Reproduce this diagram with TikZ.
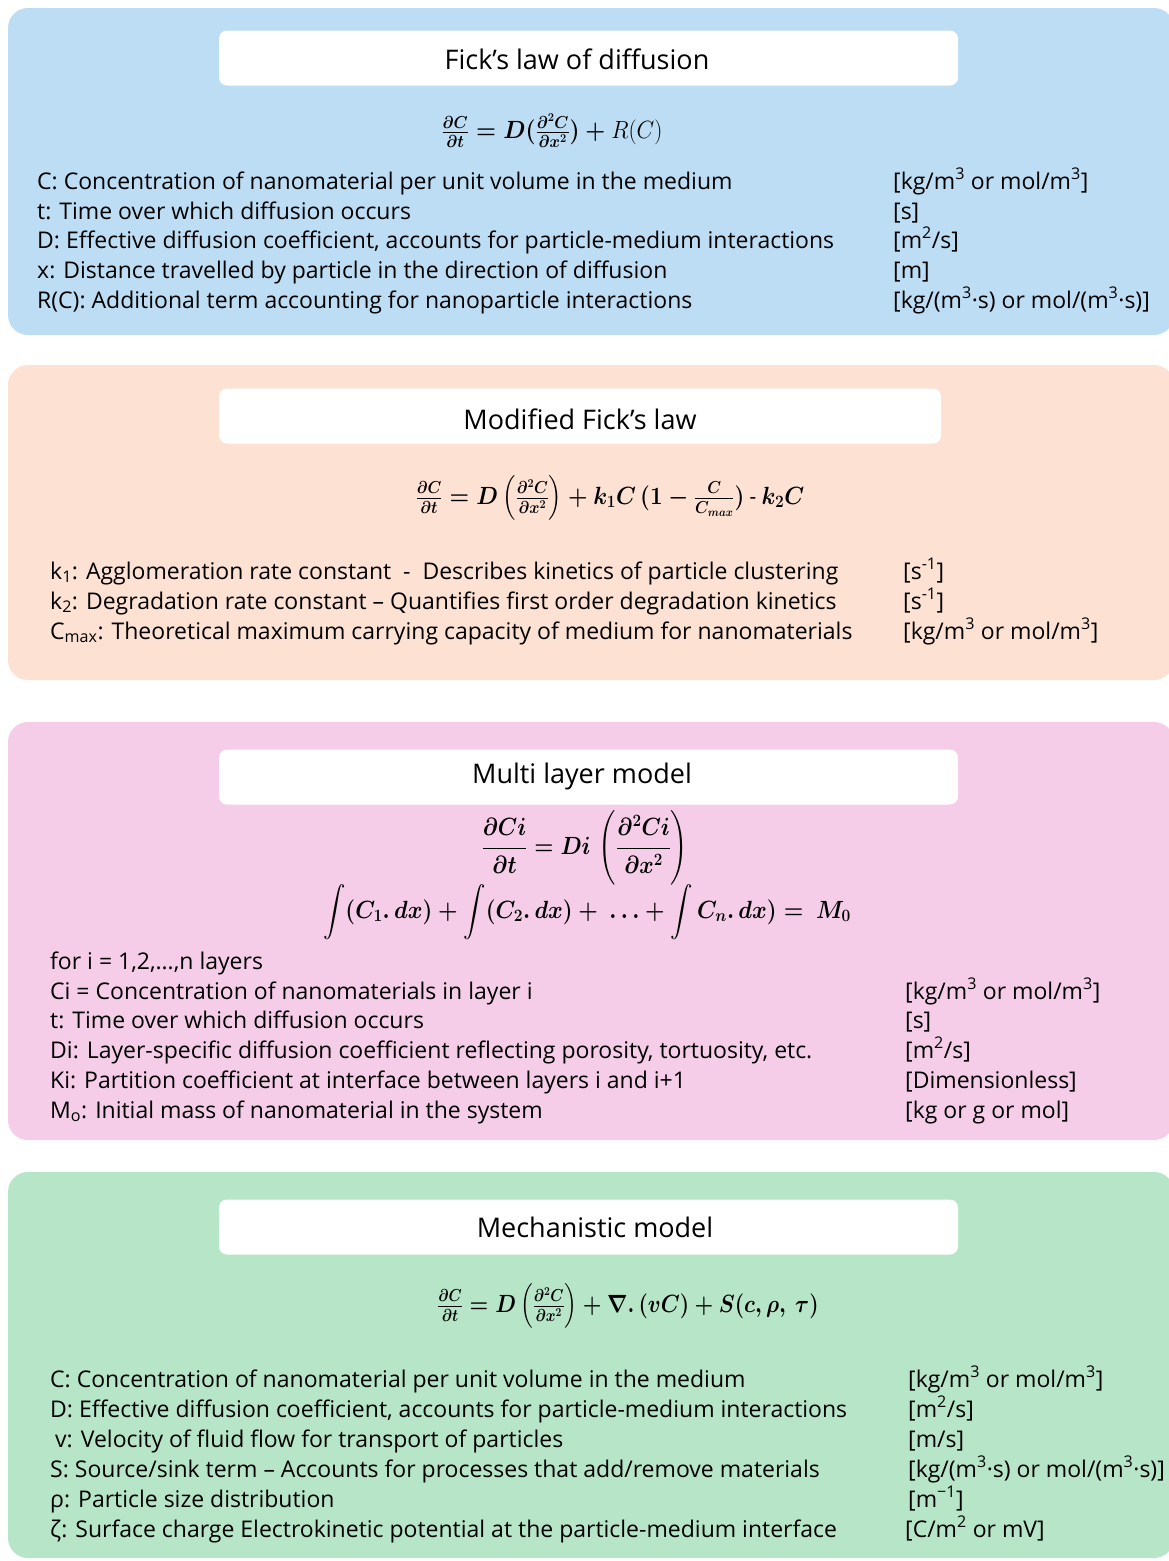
\documentclass[tikz,border=0pt]{standalone}
\usepackage{fontspec}
\setmainfont{Open Sans}
\usepackage{amsmath}
\usepackage{graphicx}
\definecolor{fickblue}{RGB}{188,221,243}
\definecolor{modpeach}{RGB}{253,225,211}
\definecolor{layerpink}{RGB}{245,205,232}
\definecolor{mechgreen}{RGB}{182,229,199}
\tikzset{
  panel/.style={rounded corners=20pt},
  titlebox/.style={fill=white, rounded corners=8pt, minimum height=55pt, inner sep=0pt},
  titletext/.style={inner sep=0pt, font=\fontsize{27}{31}\selectfont},
  defline/.style={anchor=west, inner sep=0pt, text height=17pt, text depth=5pt, font=\fontsize{23}{27}\selectfont},
  eqn/.style={inner sep=0pt, font=\fontsize{#1}{#1}\selectfont\boldmath}
}
\begin{document}
\begin{tikzpicture}[x=1pt, y=-1pt]
        \useasboundingbox (0,0) rectangle (1169,1561);

        \fill[fickblue, panel] (8,8) rectangle (1174,335);
        \fill[modpeach, panel] (8,365) rectangle (1174,680);
        \fill[layerpink, panel] (8,722) rectangle (1174,1140);
        \fill[mechgreen, panel] (8,1172) rectangle (1174,1558);

        \node[titlebox, minimum width=739pt] (fick) at (588.5,58) {};
        \node[titlebox, minimum width=722pt] (mod) at (580,416) {};
        \node[titlebox, minimum width=739pt] (multi) at (588.5,777) {};
        \node[titlebox, minimum width=739pt] (mech) at (588.5,1227) {};
        \node[titletext] (ficktitle) at (577,59) {Fick’s law of diffusion};
        \node[titletext] (modtitle) at (580,419) {Modified Fick’s law};
        \node[titletext] (multititle) at (582,776) {Multi layer model};
        \node[titletext] (mechtitle) at (595,1227) {Mechanistic model};

        \node[eqn=24] (fickeq) at (552,131) {\scalebox{0.92}[1]{$\tfrac{\partial C}{\partial t} = D(\tfrac{\partial^2 C}{\partial x^2}) + \text{\unboldmath$R(C)$}$}};
        \node[eqn=23] (modeq) at (610,498) {\scalebox{0.9}[1]{$\tfrac{\partial C}{\partial t} = D\left(\tfrac{\partial^2 C}{\partial x^2}\right) + k_1C\,(1-\tfrac{C}{C_{max}})$ - $k_2C$}};
        \node[eqn=23] (multieq) at (585,848) {\scalebox{0.88}[1]{$\dfrac{\partial Ci}{\partial t} = Di\,\left(\dfrac{\partial^2 Ci}{\partial x^2}\right)$}};
        \node[eqn=24] (sumeq) at (587,912) {\scalebox{0.9}[1]{$\displaystyle\int (C_1.\,dx) + \int (C_2.\,dx) + \ \ldots + \int C_n.\,dx) =\ M_0$}};
        \node[eqn=23] (mecheq) at (628,1306) {\scalebox{0.86}[1]{$\tfrac{\partial C}{\partial t} = D\left(\tfrac{\partial^2 C}{\partial x^2}\right) + \nabla.\,(vC) + S(c,\rho,\ \tau)$}};

        \node[defline] (fickC) at (37,183) {C: Concentration of nanomaterial per unit volume in the medium};
        \node[defline] (fickt) at (37,213) {t: Time over which diffusion occurs};
        \node[defline] (fickD) at (37,242) {D: Effective diffusion coefficient, accounts for particle-medium interactions};
        \node[defline] (fickx) at (37,272) {x: Distance travelled by particle in the direction of diffusion};
        \node[defline] (fickR) at (37,302) {R(C): Additional term accounting for nanoparticle interactions};
        \node[defline] (fickCu) at (893,183) {[kg/m\textsuperscript{3} or mol/m\textsuperscript{3}]};
        \node[defline] (ficktu) at (893,213) {[s]};
        \node[defline] (fickDu) at (893,242) {[m\textsuperscript{2}/s]};
        \node[defline] (fickxu) at (893,272) {[m]};
        \node[defline] (fickRu) at (893,302) {[kg/(m\textsuperscript{3}·s) or mol/(m\textsuperscript{3}·s)]};

        \node[defline] (modk1) at (50,573) {k\textsubscript{1}: Agglomeration rate constant \ - \ Describes kinetics of particle clustering};
        \node[defline] (modk2) at (50,603) {k\textsubscript{2}: Degradation rate constant – Quantifies first order degradation kinetics};
        \node[defline] (modC) at (50,633) {C\textsubscript{max}: Theoretical maximum carrying capacity of medium for nanomaterials};
        \node[defline] (modk1u) at (903,573) {[s\textsuperscript{-1}]};
        \node[defline] (modk2u) at (903,603) {[s\textsuperscript{-1}]};
        \node[defline] (modCu) at (903,633) {[kg/m\textsuperscript{3} or mol/m\textsuperscript{3}]};

        \node[defline] (multii) at (50,963) {for i = 1,2,\dots,n layers};
        \node[defline] (multiC) at (50,993) {Ci = Concentration of nanomaterials in layer i};
        \node[defline] (multit) at (50,1022) {t: Time over which diffusion occurs};
        \node[defline] (multiD) at (50,1052) {Di: Layer-specific diffusion coefficient reflecting porosity, tortuosity, etc.};
        \node[defline] (multiK) at (50,1082) {Ki: Partition coefficient at interface between layers i and i+1};
        \node[defline] (multiM) at (50,1112) {M\textsubscript{o}: Initial mass of nanomaterial in the system};
        \node[defline] (multiCu) at (905,993) {[kg/m\textsuperscript{3} or mol/m\textsuperscript{3}]};
        \node[defline] (multitu) at (905,1022) {[s]};
        \node[defline] (multiDu) at (905,1052) {[m\textsuperscript{2}/s]};
        \node[defline] (multiKu) at (905,1082) {[Dimensionless]};
        \node[defline] (multiMu) at (905,1112) {[kg or g or mol]};

        \node[defline] (mechC) at (50,1381) {C: Concentration of nanomaterial per unit volume in the medium};
        \node[defline] (mechD) at (50,1411) {D: Effective diffusion coefficient, accounts for particle-medium interactions};
        \node[defline] (mechv) at (55,1441) {v: Velocity of fluid flow for transport of particles};
        \node[defline] (mechS) at (50,1471) {S: Source/sink term – Accounts for processes that add/remove materials};
        \node[defline] (mechrho) at (50,1501) {ρ: Particle size distribution};
        \node[defline] (mechz) at (50,1531) {ζ: Surface charge Electrokinetic potential at the particle-medium interface};
        \node[defline] (mechCu) at (908,1381) {[kg/m\textsuperscript{3} or mol/m\textsuperscript{3}]};
        \node[defline] (mechDu) at (908,1411) {[m\textsuperscript{2}/s]};
        \node[defline] (mechvu) at (908,1441) {[m/s]};
        \node[defline] (mechSu) at (908,1471) {[kg/(m\textsuperscript{3}·s) or mol/(m\textsuperscript{3}·s)]};
        \node[defline] (mechrhou) at (908,1501) {[m\textsuperscript{−1}]};
        \node[defline] (mechzu) at (905,1531) {[C/m\textsuperscript{2} or mV]};
    \end{tikzpicture}
\end{document}
